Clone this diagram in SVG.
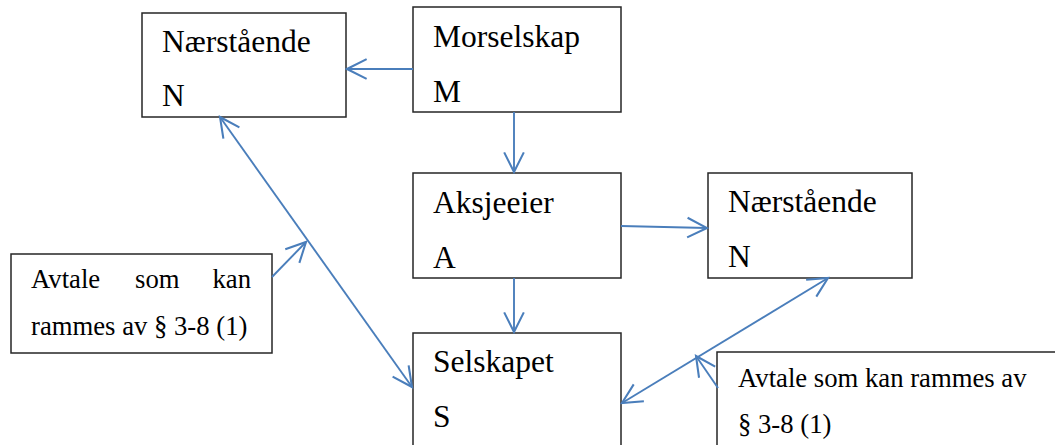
<svg xmlns="http://www.w3.org/2000/svg" width="1055" height="445" viewBox="0 0 1055 445">
  <style>
    .box { fill: #ffffff; stroke: #262626; stroke-width: 1.5; }
    .lbl { font-family: "Liberation Serif", "Times New Roman", serif; font-size: 31.5px; fill: #000000; }
    .note { font-family: "Liberation Serif", "Times New Roman", serif; font-size: 26.7px; fill: #000000; }
    .conn { fill: none; stroke: #4a7ebb; stroke-width: 1.9; }
  </style>
  <defs>
    <marker id="open-arrow" markerUnits="userSpaceOnUse" markerWidth="24" markerHeight="24" viewBox="-20 -11 22 22" refX="0" refY="0" orient="auto-start-reverse">
      <path d="M-18,-9 L0,0 L-18,9" fill="none" stroke="#4a7ebb" stroke-width="1.9"/>
    </marker>
  </defs>
  <rect width="1055" height="445" fill="#ffffff"/>

  <g id="node-naerstaende-left">
    <rect class="box" x="142" y="13" width="204" height="104"/>
    <text class="lbl" x="162" y="52">Nærstående</text>
    <text class="lbl" x="162" y="106">N</text>
  </g>

  <g id="node-morselskap">
    <rect class="box" x="413" y="7" width="208" height="105"/>
    <text class="lbl" x="433" y="47">Morselskap</text>
    <text class="lbl" x="433" y="102">M</text>
  </g>

  <g id="node-aksjeeier">
    <rect class="box" x="413" y="173" width="208" height="105"/>
    <text class="lbl" x="433" y="213">Aksjeeier</text>
    <text class="lbl" x="433" y="268">A</text>
  </g>

  <g id="node-naerstaende-right">
    <rect class="box" x="708" y="173" width="204" height="105"/>
    <text class="lbl" x="728" y="212">Nærstående</text>
    <text class="lbl" x="728" y="267">N</text>
  </g>

  <g id="node-selskapet">
    <rect class="box" x="413" y="333" width="208" height="140"/>
    <text class="lbl" x="433" y="372">Selskapet</text>
    <text class="lbl" x="433" y="427">S</text>
  </g>

  <g id="note-left">
    <rect class="box" x="11" y="254" width="261" height="99"/>
    <text class="note" x="31" y="288">Avtale</text>
    <text class="note" x="135" y="288">som</text>
    <text class="note" x="251" y="288" text-anchor="end">kan</text>
    <text class="note" x="31" y="335">rammes av § 3-8 (1)</text>
  </g>

  <g id="note-right">
    <rect class="box" x="717" y="352" width="400" height="150"/>
    <text class="note" x="738" y="387">Avtale som kan rammes av</text>
    <text class="note" x="738" y="433">§ 3-8 (1)</text>
  </g>

  <g id="connectors">
    <!-- M to N (left) -->
    <line class="conn" x1="413" y1="69" x2="347" y2="69" marker-end="url(#open-arrow)"/>
    <!-- M to A -->
    <line class="conn" x1="514" y1="112" x2="514" y2="172" marker-end="url(#open-arrow)"/>
    <!-- A to N (right) -->
    <line class="conn" x1="621" y1="226" x2="707" y2="228" marker-end="url(#open-arrow)"/>
    <!-- A to S -->
    <line class="conn" x1="514" y1="278" x2="514" y2="332" marker-end="url(#open-arrow)"/>
    <!-- N (left) and S, two-way -->
    <line class="conn" x1="220" y1="117" x2="412" y2="387" marker-start="url(#open-arrow)" marker-end="url(#open-arrow)"/>
    <!-- N (right) and S, two-way -->
    <line class="conn" x1="828" y1="278" x2="622" y2="403" marker-start="url(#open-arrow)" marker-end="url(#open-arrow)"/>
    <!-- notes pointing at the agreements -->
    <line class="conn" x1="272" y1="277" x2="306" y2="242" marker-end="url(#open-arrow)"/>
    <line class="conn" x1="718" y1="388" x2="696" y2="356" marker-end="url(#open-arrow)"/>
  </g>
</svg>
